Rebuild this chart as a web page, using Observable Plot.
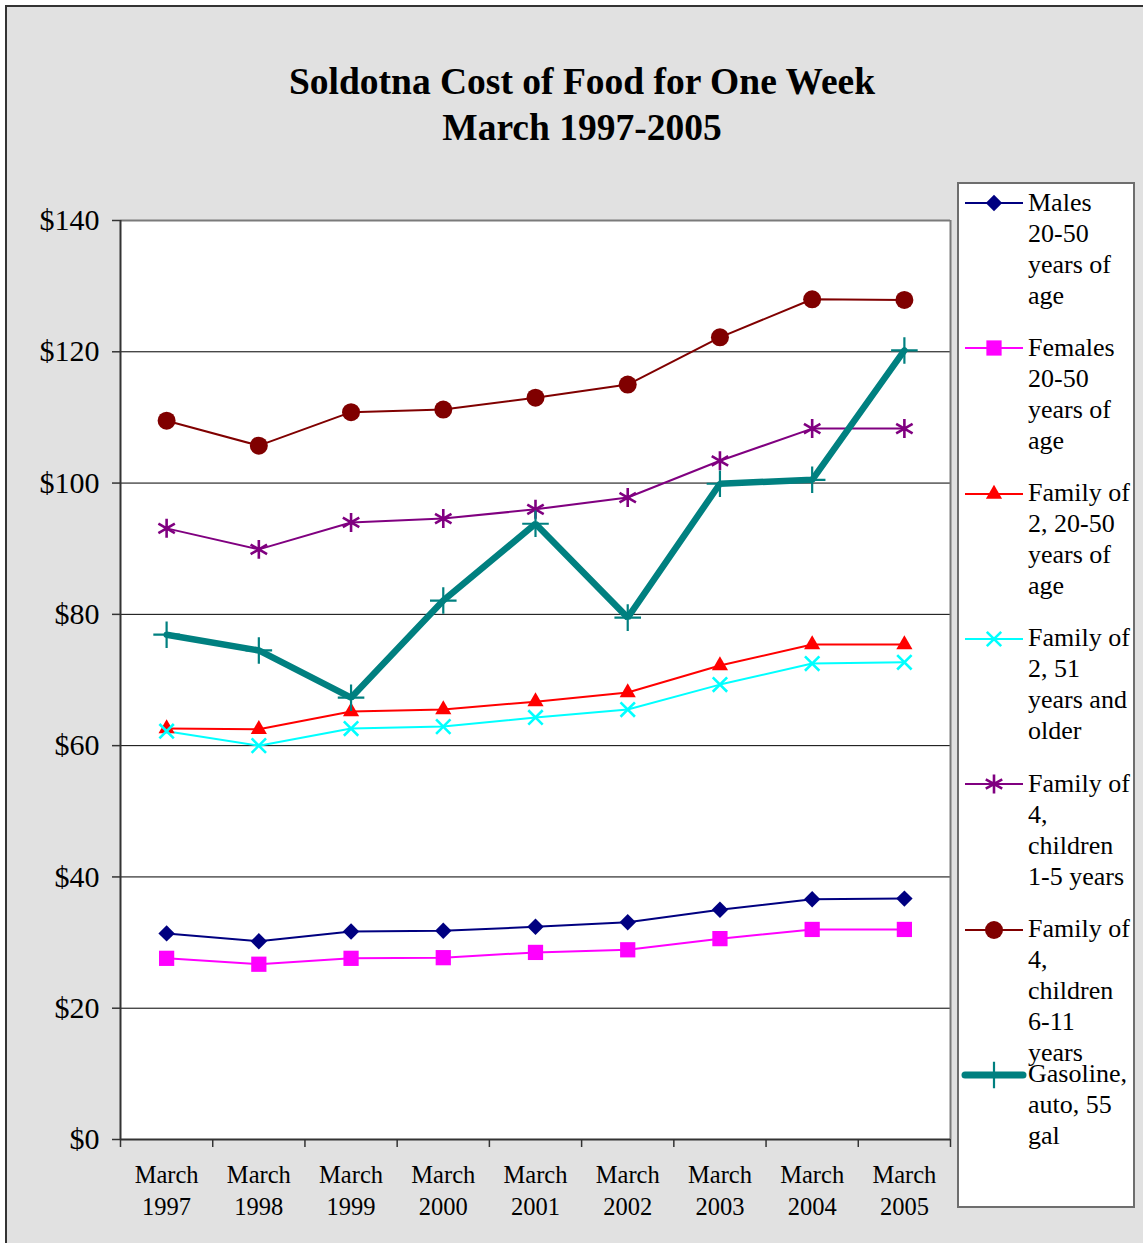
<!DOCTYPE html>
<html>
<head>
<meta charset="utf-8">
<script src="https://cdn.jsdelivr.net/npm/d3@7"></script>
<script src="https://cdn.jsdelivr.net/npm/@observablehq/plot@0.6"></script>
<style>
  html, body { margin: 0; padding: 0; background: #ffffff; overflow: hidden; }
  #page { position: relative; width: 1143px; height: 1243px; overflow: hidden; font-family: "Liberation Serif", "Times New Roman", serif; color: #000; }
  #frame { position: absolute; left: 5px; top: 5px; width: 1300px; height: 1400px; background: #e1e1e1; border-left: 2px solid #333; border-top: 2px solid #333; }
  #title { position: absolute; left: 0; top: 59px; width: 1164px; text-align: center; font-weight: bold; font-size: 37.5px; line-height: 46px; }
  #chart { position: absolute; left: 0; top: 190px; }
  #legend { position: absolute; left: 957px; top: 182px; width: 174px; height: 1022px; background: #fff; border: 2px solid #6e6e6e; overflow: visible; }
  .entry { position: absolute; left: 0; width: 200px; }
  .entry svg { position: absolute; left: 0; top: 0; overflow: visible; }
  .entry .txt { position: absolute; left: 69px; font-size: 26px; line-height: 31px; white-space: nowrap; }
</style>
</head>
<body>
<div id="page">
  <div id="frame"></div>
  <div id="title">Soldotna Cost of Food for One Week<br>March 1997-2005</div>
  <div id="chart"></div>
  <div id="legend"></div>
</div>
<script>
// ---- Data ----
const categories = ["March\n1997", "March\n1998", "March\n1999", "March\n2000", "March\n2001", "March\n2002", "March\n2003", "March\n2004", "March\n2005"];
const yTicks = [0, 20, 40, 60, 80, 100, 120, 140];

const males = [31.4, 30.2, 31.7, 31.8, 32.4, 33.1, 35.0, 36.6, 36.7];
const females = [27.6, 26.7, 27.6, 27.7, 28.5, 28.9, 30.6, 32.0, 32.0];
const family2Adults = [62.6, 62.5, 65.2, 65.5, 66.7, 68.1, 72.2, 75.4, 75.4];
const family2Older = [62.2, 60.0, 62.6, 62.9, 64.3, 65.5, 69.3, 72.5, 72.7];
const family4Young = [93.1, 89.9, 94.0, 94.6, 96.0, 97.8, 103.4, 108.3, 108.3];
const family4Older = [109.5, 105.7, 110.8, 111.2, 113.0, 115.0, 122.2, 128.0, 127.9];
const gasoline = [76.9, 74.5, 67.3, 82.1, 93.8, 79.5, 99.9, 100.5, 120.2];

const seriesNames = [
  "Males\n20-50\nyears of\nage",
  "Females\n20-50\nyears of\nage",
  "Family of\n2, 20-50\nyears of\nage",
  "Family of\n2, 51\nyears and\nolder",
  "Family of\n4,\nchildren\n1-5 years",
  "Family of\n4,\nchildren\n6-11\nyears",
  "Gasoline,\nauto, 55\ngal"
];
const seriesValues = [males, females, family2Adults, family2Older, family4Young, family4Older, gasoline];

// ---- Styles ----
const styles = [
  {color: "#000080", symbol: "diamond2", r: 7.4, filled: true, width: 2},
  {color: "#ff00ff", symbol: "square", r: 8.6, filled: true, width: 2},
  {color: "#ff0000", symbol: "triangle", r: 6.0, filled: true, width: 2},
  {color: "#00ffff", symbol: "times", r: 6.6, filled: false, width: 2, mw: 2.6},
  {color: "#800080", symbol: "asterisk", r: 9.0, filled: false, width: 2, mw: 2.6},
  {color: "#800000", symbol: "circle", r: 9, filled: true, width: 2},
  {color: "#008080", symbol: "plus", r: 8.6, filled: false, width: 6.5, mw: 2.2}
];

const data = seriesValues.flatMap((vals, s) => vals.map((v, i) => ({series: s, x: i + 0.5, value: v})));

const marks = [
  Plot.frame({fill: "white", stroke: null}),
  Plot.gridY([20, 40, 60, 80, 100, 120], {stroke: "#000", strokeOpacity: 1, strokeWidth: 1}),
  Plot.ruleY([140], {stroke: "#7a7a7a", strokeWidth: 2}),
  Plot.ruleX([9], {stroke: "#7a7a7a", strokeWidth: 2}),
  Plot.ruleX([0], {stroke: "#333", strokeWidth: 2}),
  Plot.ruleY([0], {stroke: "#333", strokeWidth: 2}),
  Plot.axisY({ticks: yTicks, tickFormat: d => "$" + d, tickSize: 8, tickPadding: 13, fontSize: 30, stroke: "#333", strokeWidth: 1.5, fill: "#000", label: null}),
  Plot.axisX({ticks: d3.range(10), tickFormat: () => "", tickSize: 8, stroke: "#333", strokeWidth: 1.5, label: null}),
  Plot.axisX({ticks: d3.range(9).map(i => i + 0.5), tickFormat: d => categories[Math.floor(d)], tickSize: 0, tickPadding: 21, fontSize: 24.5, lineHeight: 1.3, fill: "#000", label: null})
];

styles.forEach((st, s) => {
  const sub = data.filter(d => d.series === s);
  marks.push(Plot.line(sub, {x: "x", y: "value", stroke: st.color, strokeWidth: st.width, strokeLinejoin: "miter"}));
});
styles.forEach((st, s) => {
  const sub = data.filter(d => d.series === s);
  marks.push(Plot.dot(sub, st.filled
    ? {x: "x", y: "value", symbol: () => st.symbol, r: st.r, fill: st.color, stroke: "none"}
    : {x: "x", y: "value", symbol: () => st.symbol, r: st.r, fill: "none", stroke: st.color, strokeWidth: st.mw}));
});

const chart = Plot.plot({
  width: 960,
  height: 1043,
  marginLeft: 120,
  marginRight: 10,
  marginTop: 30,
  marginBottom: 94,
  style: {background: "transparent", fontFamily: "Liberation Serif, Times New Roman, serif", color: "#000", overflow: "visible"},
  x: {type: "linear", domain: [0, 9]},
  y: {domain: [0, 140]},
  symbol: {type: "identity"},
  marks
});
document.getElementById("chart").appendChild(chart);

// ---- Legend ----
const symMap = {diamond2: d3.symbolDiamond2, square: d3.symbolSquare, triangle: d3.symbolTriangle, times: d3.symbolTimes, asterisk: d3.symbolAsterisk, circle: d3.symbolCircle, plus: d3.symbolPlus};
const legend = document.getElementById("legend");
const step = 145.3;
seriesNames.forEach((name, s) => {
  const st = styles[s];
  const cy = 19 + s * step; // relative to legend box top
  const e = document.createElement("div");
  e.className = "entry";
  e.style.top = cy + "px";
  const path = d3.symbol(symMap[st.symbol], Math.PI * st.r * st.r)();
  const sw = s === 6 ? 7 : 2;
  e.innerHTML = `<svg width="70" height="1"><line x1="6" x2="64" y1="0" y2="0" stroke="${st.color}" stroke-width="${sw}" stroke-linecap="${s===6?'round':'butt'}"/>` +
    `<path transform="translate(35,0)" d="${path}" fill="${st.filled ? st.color : 'none'}" stroke="${st.filled ? 'none' : st.color}" stroke-width="${st.mw || 0}"/></svg>` +
    `<div class="txt" style="top:-16.5px">${name.split("\n").join("<br>")}</div>`;
  legend.appendChild(e);
});
</script>
</body>
</html>
